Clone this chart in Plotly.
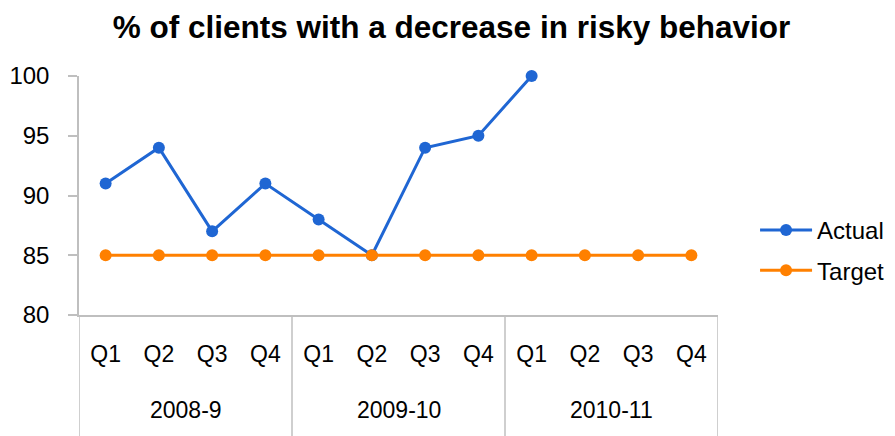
import plotly.graph_objects as go

quarters = ["Q1", "Q2", "Q3", "Q4"] * 3
years = ["2008-9", "2009-10", "2010-11"]
actual = [91, 94, 87, 91, 88, 85, 94, 95, 100, None, None, None]
target = [85, 85, 85, 85, 85, 85, 85, 85, 85, 85, 85, 85]
y_ticks = [80, 85, 90, 95, 100]

blue = "#1F66D3"
orange = "#FF8000"
gray = "#BFBFBF"
font = "Liberation Sans, Arial, sans-serif"

xs = list(range(len(quarters)))

fig = go.Figure()
fig.add_trace(go.Scatter(x=xs, y=actual, name="Actual", mode="lines+markers",
                         legendgroup="a", cliponaxis=False,
                         line=dict(color=blue, width=3), marker=dict(size=12, color=blue)))
fig.add_trace(go.Scatter(x=xs, y=target, name="Target", mode="lines+markers",
                         legendgroup="t", cliponaxis=False,
                         line=dict(color=orange, width=3), marker=dict(size=12, color=orange)))

# year group labels
for i, yr in enumerate(years):
    fig.add_annotation(x=i * 4 + 1.5, y=-0.397, xref="x", yref="paper", text=yr,
                       showarrow=False, font=dict(family=font, size=23, color="black"),
                       yanchor="middle")

# separators
for i in range(len(years)):
    xb = i * 4 + 3.5
    fig.add_shape(type="line", x0=xb, x1=xb, y0=0, y1=-0.55, xref="x", yref="paper",
                  line=dict(color=gray, width=1.5))
fig.add_shape(type="line", x0=-0.5, x1=-0.5, y0=0, y1=-0.55, xref="x", yref="paper",
              line=dict(color=gray, width=1.5))
fig.add_shape(type="line", x0=-0.013, x1=0, y0=0, y1=0, xref="paper", yref="paper",
              line=dict(color=gray, width=1.5))

fig.update_layout(
    width=887, height=428,
    margin=dict(l=71, r=177, t=68, b=121, autoexpand=False),
    paper_bgcolor="white", plot_bgcolor="white",
    title=dict(text="<b>% of clients with a decrease in risky behavior</b>",
               x=0.5, xanchor="center", y=0.955, yanchor="middle",
               font=dict(family=font, size=31.5, color="black")),
    xaxis=dict(range=[-0.5, 11.5], tickmode="array", tickvals=xs, ticktext=quarters,
               showgrid=False, zeroline=False, showline=True, linecolor=gray, linewidth=1.5,
               ticks="", ticklabelstandoff=18, automargin=False,
               tickfont=dict(family=font, size=23, color="black")),
    yaxis=dict(range=[80, 100], tickmode="array", tickvals=y_ticks,
               showgrid=False, zeroline=False, showline=True, linecolor=gray, linewidth=1.5,
               ticks="outside", ticklen=9, tickcolor=gray, tickwidth=1.5,
               ticklabelstandoff=14, automargin=False,
               tickfont=dict(family=font, size=24, color="black")),
    legend=dict(x=1.058, y=0.27, xanchor="left", yanchor="middle",
                font=dict(family=font, size=24, color="black"),
                tracegroupgap=6, itemwidth=52),
    showlegend=True,
)

fig.write_html("out.html")
